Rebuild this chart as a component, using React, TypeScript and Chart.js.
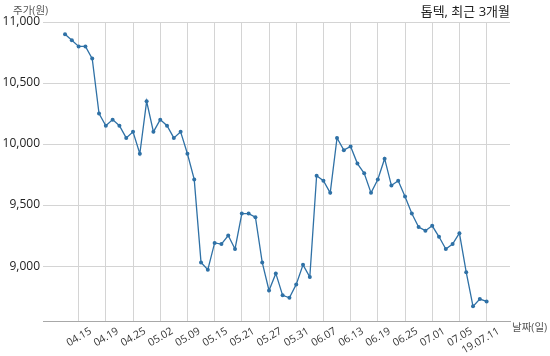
import React, { useEffect, useRef } from 'react';
import { Chart, registerables } from 'chart.js';

Chart.register(...registerables);

const dates = [
  '04.11', '04.12', '04.15', '04.16', '04.17', '04.18', '04.19', '04.22', '04.23', '04.24',
  '04.25', '04.26', '04.29', '04.30', '05.02', '05.03', '05.07', '05.08', '05.09', '05.10',
  '05.13', '05.14', '05.15', '05.16', '05.17', '05.20', '05.21', '05.22', '05.23', '05.24',
  '05.27', '05.28', '05.29', '05.30', '05.31', '06.03', '06.04', '06.05', '06.07', '06.10',
  '06.11', '06.12', '06.13', '06.14', '06.17', '06.18', '06.19', '06.20', '06.21', '06.24',
  '06.25', '06.26', '06.27', '06.28', '07.01', '07.02', '07.03', '07.04', '07.05', '07.08',
  '07.09', '07.10', '19.07.11',
];

const prices = [
  10900, 10850, 10800, 10800, 10700, 10250, 10150, 10200, 10150, 10050,
  10100, 9920, 10350, 10100, 10200, 10150, 10050, 10100, 9920, 9710,
  9030, 8970, 9190, 9180, 9250, 9140, 9430, 9430, 9400, 9030,
  8800, 8940, 8760, 8740, 8850, 9010, 8910, 9740, 9700, 9600,
  10050, 9950, 9980, 9840, 9760, 9600, 9710, 9880, 9660, 9700,
  9570, 9430, 9320, 9290, 9330, 9240, 9140, 9180, 9270, 8950,
  8670, 8730, 8710,
];

const tickEvery = 4;
const firstTick = 2;
const yTickValues = [9000, 9500, 10000, 10500, 11000];

const titleText = '톱텍, 최근 3개월';
const yAxisLabel = '주가(원)';
const xAxisLabel = '날짜(일)';

const FONT = '"Open Sans", "Noto Sans CJK KR", sans-serif';

const annotationPlugin = {
  id: 'annotations',
  afterDraw(chart: any) {
    const { ctx, chartArea } = chart;
    ctx.save();
    ctx.font = `13px ${FONT}`;
    ctx.fillStyle = '#222';
    ctx.textAlign = 'right';
    ctx.textBaseline = 'middle';
    ctx.fillText(titleText, chartArea.right, 12);

    ctx.font = `10.5px ${FONT}`;
    ctx.fillStyle = '#555';
    ctx.textAlign = 'left';
    ctx.fillText(yAxisLabel, 13, 11);

    ctx.fillText(xAxisLabel, chartArea.right + 2, chartArea.bottom + 7);
    ctx.restore();
  },
};

export default function App() {
  const ref = useRef<HTMLCanvasElement | null>(null);

  useEffect(() => {
    if (!ref.current) return;
    const chart = new Chart(ref.current, {
      type: 'line',
      data: {
        datasets: [
          {
            data: prices.map((p, i) => ({ x: i, y: p })),
            borderColor: '#2f71a6',
            backgroundColor: '#2f71a6',
            borderWidth: 1.3,
            pointRadius: 2,
            pointBorderWidth: 0,
            pointHoverRadius: 2,
            tension: 0,
          },
        ],
      },
      options: {
        animation: false,
        responsive: false,
        maintainAspectRatio: false,
        layout: { padding: { left: 0, right: 40, top: 22, bottom: 0 } },
        plugins: {
          legend: { display: false },
          tooltip: { enabled: false },
          title: { display: false },
        },
        scales: {
          x: {
            type: 'linear',
            min: -3.24,
            max: 65.44,
            afterBuildTicks: (scale: any) => {
              scale.ticks = dates
                .map((_, i) => i)
                .filter((i) => i % tickEvery === firstTick)
                .map((i) => ({ value: i }));
            },
            afterFit: (scale: any) => {
              scale.height = 35;
            },
            grid: { color: '#d4d4d4', drawTicks: false, lineWidth: 1 },
            border: { display: true, color: '#a8a8a8', width: 1 },
            ticks: {
              autoSkip: false,
              minRotation: 30,
              maxRotation: 30,
              padding: 4,
              labelOffset: 12,
              color: '#333',
              font: { family: FONT, size: 10.5 },
              callback: (v: any) => dates[Math.round(v)] ?? '',
            },
          },
          y: {
            type: 'linear',
            min: 8550,
            max: 11000,
            afterBuildTicks: (scale: any) => {
              scale.ticks = yTickValues.map((v) => ({ value: v }));
            },
            afterFit: (scale: any) => {
              scale.width = 43;
            },
            grid: { color: '#d4d4d4', drawTicks: false, lineWidth: 1 },
            border: { display: false },
            ticks: {
              padding: 3,
              color: '#222',
              font: { family: FONT, size: 12 },
              callback: (v: any) => Number(v).toLocaleString('en-US'),
            },
          },
        },
      },
      plugins: [annotationPlugin],
    });
    return () => chart.destroy();
  }, []);

  return (
    <div style={{ position: 'fixed', left: 0, top: 0, width: 550, height: 356, background: '#fff' }}>
      <canvas ref={ref} width={550} height={356} style={{ display: 'block', width: 550, height: 356 }} />
    </div>
  );
}
